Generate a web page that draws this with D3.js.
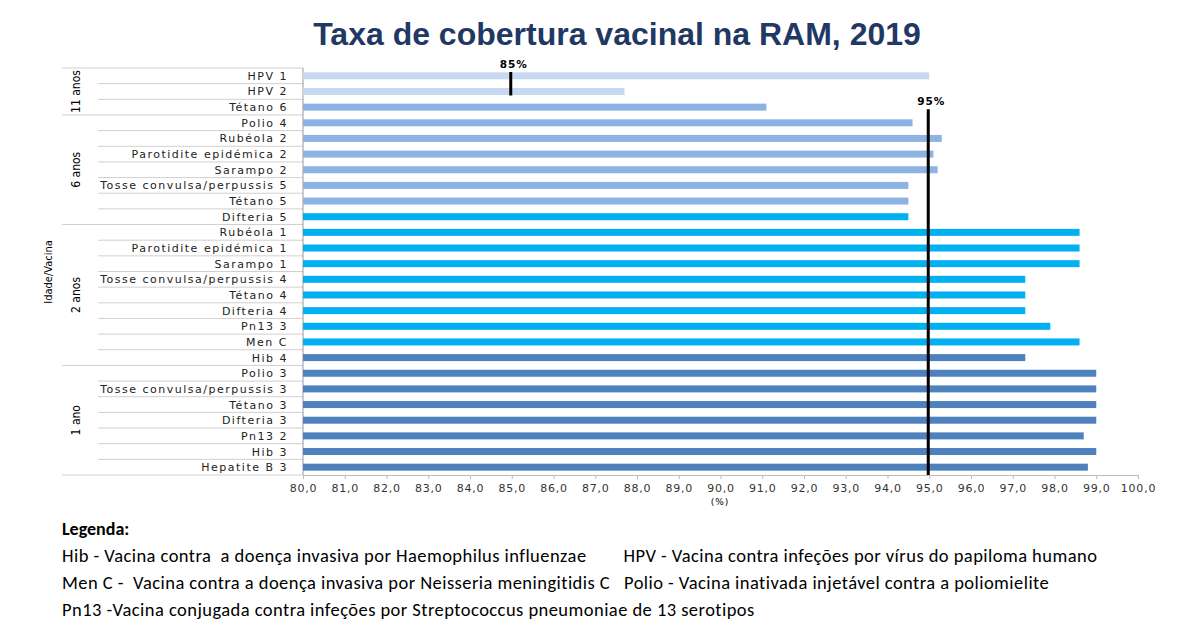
<!DOCTYPE html>
<html><head><meta charset="utf-8">
<script src="https://d3js.org/d3.v7.min.js"></script>
<style>body{margin:0;background:#fff}</style></head>
<body><svg id="c" width="1200" height="628"></svg>
<script>
const categories=["HPV 1","HPV 2","Tétano 6","Polio 4","Rubéola 2","Parotidite epidémica 2","Sarampo 2","Tosse convulsa/perpussis 5","Tétano 5","Difteria 5","Rubéola 1","Parotidite epidémica 1","Sarampo 1","Tosse convulsa/perpussis 4","Tétano 4","Difteria 4","Pn13 3","Men C ","Hib 4","Polio 3","Tosse convulsa/perpussis 3","Tétano 3","Difteria 3","Pn13 2","Hib 3","Hepatite B 3"];
const values=[95.0,87.7,91.1,94.6,95.3,95.1,95.2,94.5,94.5,94.5,98.6,98.6,98.6,97.3,97.3,97.3,97.9,98.6,97.3,99.0,99.0,99.0,99.0,98.7,99.0,98.8];
const colorClass=[0,0,1,1,1,1,1,1,1,2,2,2,2,2,2,2,2,2,3,3,3,3,3,3,3,3];
const palette=["#c6d9f1","#8db3e2","#00b0f0","#4f81bd"];
const groups=[{name:"11 anos",start:0,end:3},{name:"6 anos",start:3,end:10},{name:"2 anos",start:10,end:19},{name:"1 ano",start:19,end:26}];
const xTicks=d3.range(80,100.01,1);
const targets=[{v:85,label:"85%",r0:0,r1:2},{v:95,label:"95%",r0:2,r1:26}];
const legend=["Hib - Vacina contra  a doença invasiva por Haemophilus influenzae        HPV - Vacina contra infeções por vírus do papiloma humano",
"Men C -  Vacina contra a doença invasiva por Neisseria meningitidis C   Polio - Vacina inativada injetável contra a poliomielite",
"Pn13 -Vacina conjugada contra infeções por Streptococcus pneumoniae de 13 serotipos"];

const svg=d3.select("#c");
const x=d3.scaleLinear().domain([80,100]).range([303,1138]);
const y=d3.scaleBand().domain(d3.range(categories.length)).range([68,475]);
const lf="'DejaVu Sans',Verdana,sans-serif";

svg.append("text").attr("x",617).attr("y",45).attr("text-anchor","middle")
 .attr("font-family","'Liberation Sans',Arial,sans-serif").attr("font-weight","bold")
 .attr("font-size",32).attr("fill","#1f3864").text("Taxa de cobertura vacinal na RAM, 2019");

const g=svg.append("g");
d3.range(categories.length+1).forEach(i=>{
  const isGroup=groups.some(gr=>gr.start===i)||i===categories.length;
  g.append("line").attr("x1",isGroup?62:98).attr("x2",303).attr("y1",y.range()[0]+i*y.step()).attr("y2",y.range()[0]+i*y.step())
   .attr("stroke","#d0d0d0").attr("stroke-width",1);
});
g.selectAll("text.cat").data(categories).join("text").attr("x",288)
 .attr("y",(d,i)=>y(i)+y.bandwidth()/2+4).attr("text-anchor","end")
 .attr("font-family",lf).attr("font-size",11).attr("letter-spacing",1.5).attr("fill","#222").text(d=>d);
groups.forEach(gr=>{
  const cy=(y(gr.start)+y(gr.end-1)+y.bandwidth())/2;
  g.append("text").attr("transform",`translate(80,${cy}) rotate(-90)`).attr("text-anchor","middle")
   .attr("font-family","'Liberation Sans Narrow','DejaVu Sans Condensed',sans-serif").attr("font-size",12).text(gr.name);
});
svg.append("text").attr("transform","translate(52,272) rotate(-90)").attr("text-anchor","middle")
 .attr("font-family","'Liberation Sans Narrow','DejaVu Sans Condensed',sans-serif").attr("font-size",11).text("Idade/Vacina");

svg.append("line").attr("x1",303).attr("x2",303).attr("y1",68).attr("y2",475).attr("stroke","#999");

svg.selectAll("rect.bar").data(values).join("rect")
 .attr("x",x(80)).attr("y",(d,i)=>y(i)+y.bandwidth()/2-3.5)
 .attr("width",d=>x(d)-x(80)).attr("height",7).attr("fill",(d,i)=>palette[colorClass[i]]);

const ax=svg.append("g").attr("transform","translate(0,475)")
 .call(d3.axisBottom(x).tickValues(xTicks).tickSize(4).tickFormat(d=>d3.format(".1f")(d).replace(".",",")));
ax.select(".domain").attr("stroke","#bbb");
ax.selectAll("line").attr("stroke","#bbb");
ax.selectAll("text").attr("font-family",lf).attr("font-size",11).attr("letter-spacing",0.8).attr("fill","#333").attr("dy","0.9em");
svg.append("text").attr("x",720).attr("y",505).attr("text-anchor","middle").attr("font-family",lf).attr("font-size",9).attr("letter-spacing",1).text("(%)");

targets.forEach(t=>{
  const ytop=t.r0===0?72:y(t.r0)+y.bandwidth()/2+2;
  const ybot=t.r1===26?475:y(t.r1-1)+y.bandwidth()/2+4;
  svg.append("line").attr("x1",x(t.v)-1).attr("x2",x(t.v)-1).attr("y1",ytop).attr("y2",ybot).attr("stroke","#000").attr("stroke-width",3);
  svg.append("text").attr("x",x(t.v)+2).attr("y",ytop-4).attr("text-anchor","middle")
   .attr("font-family",lf).attr("font-weight","bold").attr("font-size",10.5).attr("letter-spacing",1).text(t.label);
});

const lg="'Carlito','Lato','Open Sans',sans-serif";
svg.append("text").attr("x",62).attr("y",535).attr("font-family",lg).attr("font-weight","bold").attr("font-size",18).text("Legenda:");
legend.forEach((t,i)=>svg.append("text").attr("x",62).attr("y",562+i*27).attr("font-family",lg)
 .attr("font-size",18.5).attr("letter-spacing",0.45).style("white-space","pre").text(t));
</script></body></html>
